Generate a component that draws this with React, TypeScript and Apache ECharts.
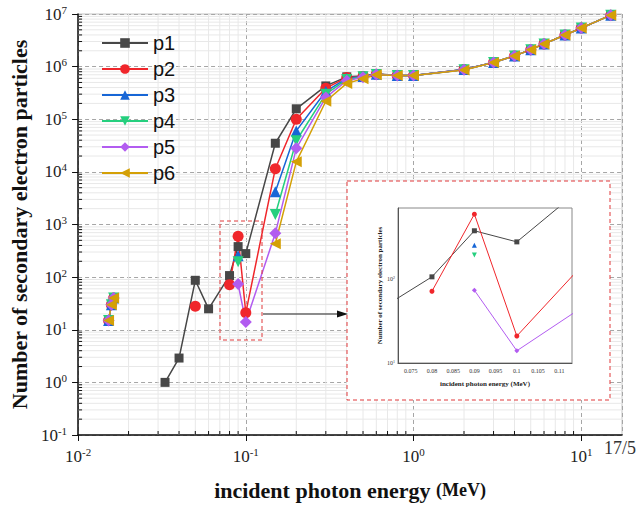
import React, { useEffect, useRef } from 'react';
import * as echarts from 'echarts';

// ---------- data ----------
const energies = [0.033, 0.04, 0.05, 0.06, 0.08, 0.09, 0.1, 0.15, 0.2, 0.3, 0.4, 0.5, 0.6, 0.8, 1, 2, 3, 4, 5, 6, 8, 10, 15];
const p1 = [1, 2.9, 87, 25, 107, 380, 280, 35000, 158000, 430000, 640000, 660000, 730000, 680000, 680000, 880000, 1.2e6, 1.6e6, 2.1e6, 2.7e6, 4.0e6, 5.4e6, 9.5e6];
const p2 = [null, null, 28, null, 72, 600, 21, 11500, 100000, 390000, 620000, 650000, 720000, 680000, 680000, 880000, 1.2e6, 1.6e6, 2.1e6, 2.7e6, 4.0e6, 5.4e6, 9.5e6];
const p3 = [null, null, null, null, null, 255, null, 4200, 60000, 340000, 600000, 650000, 720000, 680000, 680000, 880000, 1.2e6, 1.6e6, 2.1e6, 2.7e6, 4.0e6, 5.4e6, 9.5e6];
const p4 = [null, null, null, null, null, 195, null, 1550, 39000, 300000, 570000, 640000, 710000, 680000, 680000, 870000, 1.2e6, 1.6e6, 2.1e6, 2.7e6, 4.0e6, 5.4e6, 9.5e6];
const p5 = [null, null, null, null, null, 74, 14, 680, 28000, 260000, 540000, 630000, 710000, 680000, 680000, 870000, 1.2e6, 1.6e6, 2.1e6, 2.7e6, 4.0e6, 5.4e6, 9.5e6];
const p6 = [null, null, null, null, null, null, null, 430, 15500, 220000, 480000, 590000, 700000, 680000, 680000, 860000, 1.2e6, 1.6e6, 2.1e6, 2.7e6, 4.0e6, 5.4e6, 9.5e6];
// the small cluster of overlapping points at low energy (all series)
const clusterE = [0.0152, 0.0158, 0.0163];
const clusterY = [15, 30, 40];

// axis ranges / tick helpers
const X_MIN = 0.01, X_MAX = 17.5, Y_MIN = 0.1, Y_MAX = 1e7;
const minorMult = [2, 3, 4, 5, 6, 7, 8, 9];
const xDecades = [0.01, 0.1, 1, 10];
const yDecades = [0.1, 1, 10, 100, 1e3, 1e4, 1e5, 1e6];
const INSET_X_MIN = 0.072, INSET_X_MAX = 0.113, INSET_Y_MIN = 10, INSET_Y_MAX = 711;

const SERIF = '"Liberation Serif", "Times New Roman", serif';
const SANS = '"Liberation Sans", Arial, sans-serif';

const styles = [
  { name: 'p1', data: p1, color: '#474747', symbol: 'rect', rotate: 0, size: 9 },
  { name: 'p2', data: p2, color: '#f0262b', symbol: 'circle', rotate: 0, size: 11 },
  { name: 'p3', data: p3, color: '#1766d6', symbol: 'triangle', rotate: 0, size: 11 },
  { name: 'p4', data: p4, color: '#25cf7e', symbol: 'triangle', rotate: 180, size: 11 },
  { name: 'p5', data: p5, color: '#b25cf0', symbol: 'diamond', rotate: 0, size: 12 },
  { name: 'p6', data: p6, color: '#d4a006', symbol: 'triangle', rotate: 90, size: 11 },
];

const pairs = (ys: (number | null)[]) => energies.map((e, i) => [e, ys[i] == null ? '-' : ys[i]]);

const supFmt = (v: number) => `{b|10}{s|${Math.round(Math.log10(v))}}`;

export default function App() {
  const ref = useRef<HTMLDivElement>(null);
  useEffect(() => {
    if (!ref.current) return;
    const chart = echarts.init(ref.current, null, { renderer: 'svg' });
    const xMinor = xDecades.flatMap((d) => minorMult.map((m) => d * m)).filter((v) => v < X_MAX);
    const yMinor = yDecades.flatMap((d) => minorMult.map((m) => d * m));

    const mainSeries = styles.map((s) => ({
      name: s.name,
      type: 'line',
      xAxisIndex: 0,
      yAxisIndex: 0,
      data: pairs(s.data),
      symbol: s.symbol,
      symbolRotate: s.rotate,
      symbolSize: s.size,
      showAllSymbol: true,
      connectNulls: false,
      lineStyle: { color: s.color, width: 1.5 },
      itemStyle: { color: s.color },
      z: 2,
    }));
    const clusterSeries = styles.map((s) => ({
      name: s.name,
      type: 'line',
      xAxisIndex: 0,
      yAxisIndex: 0,
      data: clusterE.map((e, i) => [e, clusterY[i]]),
      symbol: s.symbol,
      symbolRotate: s.rotate,
      symbolSize: s.size,
      lineStyle: { color: s.color, width: 1.5 },
      itemStyle: { color: s.color },
      z: 2,
    }));
    const insetSeries = styles.slice(0, 5).map((s) => ({
      name: s.name,
      type: 'line',
      xAxisIndex: 1,
      yAxisIndex: 1,
      data: pairs(s.data),
      symbol: s.symbol,
      symbolRotate: s.rotate,
      symbolSize: 5,
      showAllSymbol: true,
      clip: true,
      lineStyle: { color: s.color, width: 1 },
      itemStyle: { color: s.color },
      z: 8,
    }));

    const xMinorSeries = {
      type: 'custom',
      xAxisIndex: 0,
      yAxisIndex: 0,
      silent: true,
      z: 1,
      data: xMinor.map((v) => [v, 1]),
      renderItem: (params: any, api: any) => {
        const v = api.value(0);
        const top = api.coord([v, Y_MAX]);
        const bot = api.coord([v, Y_MIN]);
        return {
          type: 'group',
          children: [
            { type: 'line', shape: { x1: top[0], y1: top[1], x2: bot[0], y2: bot[1] }, style: { stroke: '#e8e8e8', lineWidth: 1 } },
            { type: 'line', shape: { x1: bot[0], y1: bot[1], x2: bot[0], y2: bot[1] - 4 }, style: { stroke: '#111', lineWidth: 1 } },
          ],
        };
      },
    };
    const yMinorSeries = {
      type: 'custom',
      xAxisIndex: 0,
      yAxisIndex: 0,
      silent: true,
      z: 1,
      data: yMinor.map((v) => [1, v]),
      renderItem: (params: any, api: any) => {
        const v = api.value(1);
        const l = api.coord([X_MIN, v]);
        const r = api.coord([X_MAX, v]);
        return {
          type: 'group',
          children: [
            { type: 'line', shape: { x1: l[0], y1: l[1], x2: r[0], y2: r[1] }, style: { stroke: '#e8e8e8', lineWidth: 1 } },
            { type: 'line', shape: { x1: l[0], y1: l[1], x2: l[0] + 4, y2: l[1] }, style: { stroke: '#111', lineWidth: 1 } },
          ],
        };
      },
    };

    const mainRich = {
      b: { fontFamily: SERIF, fontSize: 17, color: '#222', lineHeight: 20 },
      s: { fontFamily: SERIF, fontSize: 11, color: '#222', verticalAlign: 'top', lineHeight: 12 },
    };
    const insetRich = {
      b: { fontFamily: SERIF, fontSize: 6, color: '#333', lineHeight: 7 },
      s: { fontFamily: SERIF, fontSize: 4, color: '#333', verticalAlign: 'top', lineHeight: 4 },
    };

    chart.setOption({
      animation: false,
      backgroundColor: '#fff',
      legend: {
        data: ['p1', 'p2', 'p3', 'p4', 'p5', 'p6'],
        orient: 'vertical',
        left: 96,
        top: 28,
        itemWidth: 46,
        itemHeight: 12,
        itemGap: 6,
        textStyle: { fontFamily: SANS, fontSize: 20, color: '#111', lineHeight: 20 },
      },
      grid: [
        { left: 77, top: 14, width: 545, height: 425, show: true, borderColor: '#c4c4c4', borderWidth: 1, backgroundColor: 'transparent', z: 0 },
        { left: 398, top: 208, width: 174, height: 155, show: true, borderColor: '#888', borderWidth: 1, backgroundColor: '#fff', z: 5 },
      ],
      xAxis: [
        {
          gridIndex: 0,
          type: 'log',
          logBase: 10,
          min: X_MIN,
          max: X_MAX,
          axisLine: { lineStyle: { color: '#111', width: 1.5 } },
          axisTick: { length: 6, lineStyle: { color: '#111' } },
          splitLine: { show: true, lineStyle: { color: '#a6a6a6', type: [4, 3], width: 1 } },
          axisLabel: { margin: 11, showMaxLabel: false, formatter: supFmt, rich: mainRich },
          name: 'incident photon energy {u|(MeV)}',
          nameLocation: 'middle',
          nameGap: 44,
          nameTextStyle: {
            fontFamily: SERIF, fontSize: 22, fontWeight: 'bold', color: '#111',
            rich: { u: { fontFamily: SERIF, fontSize: 18, fontWeight: 'bold', color: '#111' } },
          },
        },
        {
          gridIndex: 1,
          type: 'value',
          min: INSET_X_MIN,
          max: INSET_X_MAX,
          minInterval: 0.005,
          maxInterval: 0.005,
          z: 6,
          axisLine: { lineStyle: { color: '#555', width: 1 } },
          axisTick: { show: false },
          splitLine: { show: false },
          axisLabel: { margin: 5, fontFamily: SERIF, fontSize: 6, color: '#333', showMinLabel: false, showMaxLabel: false, formatter: (v: number) => String(+v.toFixed(3)) },
          name: 'incident photon energy (MeV)',
          nameLocation: 'middle',
          nameGap: 17,
          nameTextStyle: { fontFamily: SERIF, fontSize: 7, fontWeight: 'bold', color: '#222' },
        },
      ],
      yAxis: [
        {
          gridIndex: 0,
          type: 'log',
          logBase: 10,
          min: Y_MIN,
          max: Y_MAX,
          axisLine: { lineStyle: { color: '#111', width: 1.5 } },
          axisTick: { length: 6, lineStyle: { color: '#111' } },
          splitLine: { show: true, lineStyle: { color: '#a6a6a6', type: [4, 3], width: 1 } },
          axisLabel: { margin: 11, formatter: supFmt, rich: mainRich },
          name: 'Number of secondary electron particles',
          nameLocation: 'middle',
          nameGap: 43,
          nameTextStyle: { fontFamily: SERIF, fontSize: 22, fontWeight: 'bold', color: '#111' },
        },
        {
          gridIndex: 1,
          type: 'log',
          logBase: 10,
          min: INSET_Y_MIN,
          max: INSET_Y_MAX,
          z: 6,
          axisLine: { lineStyle: { color: '#555', width: 1 } },
          axisTick: { show: false },
          splitLine: { show: false },
          axisLabel: { margin: 3, showMaxLabel: false, formatter: supFmt, rich: insetRich },
          name: 'Number of secondary electron particles',
          nameLocation: 'middle',
          nameGap: 14,
          nameTextStyle: { fontFamily: SERIF, fontSize: 7, fontWeight: 'bold', color: '#222' },
        },
      ],
      graphic: [
        { type: 'rect', z: 4, silent: true, shape: { x: 347, y: 181, width: 263, height: 219 }, style: { fill: '#fff', stroke: '#e0393b', lineWidth: 1, lineDash: [4, 3] } },
        { type: 'rect', z: 4, silent: true, shape: { x: 220, y: 221, width: 42, height: 119 }, style: { fill: 'none', stroke: '#e0393b', lineWidth: 1, lineDash: [4, 3] } },
        { type: 'line', z: 4, silent: true, shape: { x1: 263, y1: 314, x2: 340, y2: 314 }, style: { stroke: '#222', lineWidth: 1 } },
        { type: 'polygon', z: 4, silent: true, shape: { points: [[348, 314], [337, 310.5], [337, 317.5]] }, style: { fill: '#111' } },
        { type: 'text', z: 4, x: 620, y: 448, style: { text: '17/5', fontFamily: SERIF, fontSize: 18, fill: '#333', align: 'center', verticalAlign: 'middle' } },
      ],
      series: [xMinorSeries, yMinorSeries, ...mainSeries, ...clusterSeries, ...insetSeries],
    });
    return () => chart.dispose();
  }, []);
  return <div ref={ref} style={{ position: 'fixed', left: 0, top: 0, width: 638, height: 506 }} />;
}
